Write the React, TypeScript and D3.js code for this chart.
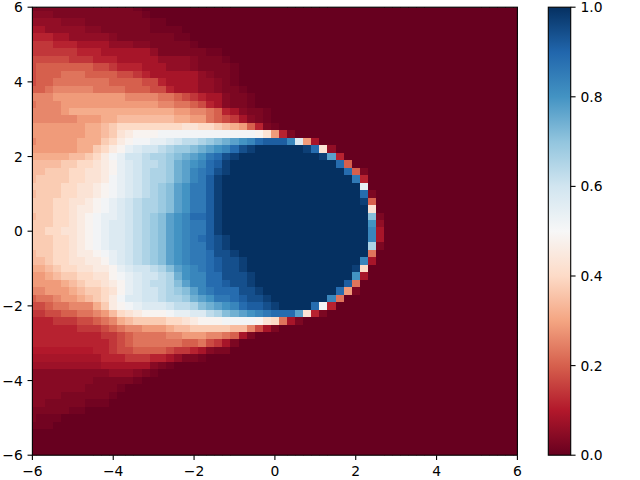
import React from "react";
import * as d3 from "d3";

// Cell values, coded: 0..z = 0..35 of 35; A..E are half steps 0.5..4.5 of 35.
// Top row first, left column first. Spaces group columns by ten; missing trailing cells are 0.
const cellRows: string[] = [
  "1111111111 111A",
  "BBB1111111 1111A",
  "2222BBB111 11111AA",
  "3322222BB1 11111AAAA",
  "4443322222 B1111111AA",
  "5554443333 222BB11111 A",
  "5555554443 3333321111 11AA",
  "6666655544 4333332222 B111A",
  "6777777766 5444333222 B1111A",
  "6777888777 7665433333 32B11A",
  "6778888888 7777664333 322B1A",
  "7789999988 8877766433 322B11A",
  "999aaaaaaa aa99998876 5433B11A",
  "8999aaaaaa aaaaaa9988 7643B11A",
  "9999abbbbb bbbbbbbbaa 998743B11A",
  "999999aaab bcccccccbb aa87653B1A",
  "aaaaaaabbc deeeeeeeef feedcba741 A",
  "aaaaaaabbc dfghhhiiii iiiiiiiihf a41",
  "9aaaaabbbd eghiijjklm mnopqrstvw wwtka3",
  "aaaaaabbde ghjkllmnoo pqrstvxyzz zzzzyvf2",
  "bbbbbccdeg ijllmnnopq rsuvxyzzzz zzzzzzyr4",
  "ccccddeefg hjklmmnoqr stvwyzzzzz zzzzzzzzv7",
  "ccdddeeffg hjklmnnoqr tuvxyzzzzz zzzzzzzzzv 71",
  "cddddeeffg ijklmnnoqr tuwyzzzzzz zzzzzzzzzz u4",
  "ddddeeffgh ijklmnoprs uuwyzzzzzz zzzzzzzzzz zj",
  "cdddeeffgh ijklmnoprs uuwyzzzzzz zzzzzzzzzz zv1",
  "dddeeffghi jklmnnoprs uuwyzzzzzz zzzzzzzzzz zy7",
  "dddeefgghi jklmnnoprs uuwyzzzzzz zzzzzzzzzz zzf",
  "cddeefghij jklmnoprst vvwyzzzzzz zzzzzzzzzz zzp1",
  "dddeefghij kklmnoprst uuwyzzzzzz zzzzzzzzzz zzs2",
  "ddeeffghij kklmnoprst uuwyzzzzzz zzzzzzzzzz zzt3",
  "dddeefghij kklmnoprst uvwxyzzzzz zzzzzzzzzz zzt3",
  "dddeefghij kklmnoprst uuwxyzzzzz zzzzzzzzzz zzn1",
  "cddeefgghi jklmnoprst uuvxxyzzzz zzzzzzzzzz zz8",
  "ccdeeffggh jklmnoprst uuvwxxyzzz zzzzzzzzzz zt3",
  "bbcdeeffgg hjkllmnprs tuvwxxyzzz zzzzzzzzzz ye",
  "aabcddeeff hijkllmnqs ttvvxxxyzz zzzzzzzzzz s3",
  "aaaabcdeef ghjklmmnpr ttvvwxxyzz zzzzzzzzzw 8",
  "99aaabcdde fhjkllmnop rtuvvvxxyz zzzzzzzzva 1",
  "7889aabcde gikkllmnno qrsuuvwxxy zzzzzzzt8",
  "66788999bd ghijkkklmm npqrstvwwx yzzzzvi4",
  "556677889a cefghhhijj kkmnpqrstu vvvrf41",
  "4445556678 9bcddddeef ghhhiiiihf e831",
  "4444445556 7899aaabcc dddddcc963 1",
  "4444444445 567888899a aa998731",
  "4444444444 5678888887 786531",
  "DDDDDDDD44 5667777655 43B11",
  "3333333334 4455544321 1A",
  "CCCCCCCCC3 33333B1A",
  "BBBBBBBBBB 222B1A",
  "BBBBBBBB11 111A",
  "BBBBBBB111 1A",
  "BBBB111111 A",
  "BB11111AAA",
  "11111AA",
  "1AAA",
  "AAA",
  "", "", "", "",
];
const gridCenters: number[] = d3.range(-30, 31).map((i) => i / 5);
const axisTicks: number[] = [-6, -4, -2, 0, 2, 4, 6];
const barTicks: number[] = [0, 0.2, 0.4, 0.6, 0.8, 1];
const rdBu: string[] = ["#67001f", "#b2182b", "#d6604d", "#f4a582", "#fddbc7", "#f7f7f7", "#d1e5f0", "#92c5de", "#4393c3", "#2166ac", "#053061"];

const color = d3.scaleLinear<string>().domain(rdBu.map((_, i) => i / 10)).range(rdBu).interpolate(d3.interpolateRgb);
const x = d3.scaleLinear().domain([-6, 6]).range([32.4, 517.4]);
const y = d3.scaleLinear().domain([-6, 6]).range([455.2, 7.2]);
const barY = d3.scaleLinear().domain([0, 1]).range([455.2, 7.2]);
const barLeft = 548.3;
const barRight = 570.7;
const fmt = (v: number) => (v < 0 ? "\u2212" + Math.abs(v) : String(v));
const half = 0.1;
const fontFamily = "'DejaVu Sans'";

const decode = (ch: string | undefined): number => {
  if (!ch) return 0;
  if (ch >= "A" && ch <= "Z") return (ch.charCodeAt(0) - 65 + 0.5) / 35;
  return parseInt(ch, 36) / 35;
};

const cells = cellRows.flatMap((row, r) => {
  const chars = row.replace(/ /g, "");
  return gridCenters.map((cx, c) => ({
    cx,
    cy: gridCenters[60 - r],
    v: decode(chars[c]),
  }));
});

export default function App() {
  return (
    <svg width={640} height={480} style={{ position: "absolute", left: 0, top: 0, background: "#fff" }}>
      <defs>
        <clipPath id="plot">
          <rect x={x(-6)} y={y(6)} width={x(6) - x(-6)} height={y(-6) - y(6)} />
        </clipPath>
        <linearGradient id="bar" x1="0" y1="1" x2="0" y2="0">
          {rdBu.map((c, i) => (
            <stop key={i} offset={i / 10} stopColor={c} />
          ))}
        </linearGradient>
      </defs>
      <g clipPath="url(#plot)" shapeRendering="crispEdges">
        {cells.map((d, i) => (
          <rect
            key={i}
            x={x(d.cx - half)}
            y={y(d.cy + half)}
            width={x(d.cx + half) - x(d.cx - half) + 0.5}
            height={y(d.cy - half) - y(d.cy + half) + 0.5}
            fill={color(d.v)}
          />
        ))}
      </g>
      <rect x={x(-6)} y={y(6)} width={x(6) - x(-6)} height={y(-6) - y(6)} fill="none" stroke="#000" strokeWidth={1.1} />
      <g fontFamily={fontFamily} fontSize={13.89} fill="#000">
        {axisTicks.map((t) => (
          <g key={"x" + t}>
            <line x1={x(t)} x2={x(t)} y1={y(-6)} y2={y(-6) + 4.86} stroke="#000" strokeWidth={1.1} />
            <text x={x(t)} y={476} textAnchor="middle">{fmt(t)}</text>
          </g>
        ))}
        {axisTicks.map((t) => (
          <g key={"y" + t}>
            <line x1={x(-6)} x2={x(-6) - 4.86} y1={y(t)} y2={y(t)} stroke="#000" strokeWidth={1.1} />
            <text x={22.8} y={y(t) + 5} textAnchor="end">{fmt(t)}</text>
          </g>
        ))}
        <rect x={barLeft} y={barY(1)} width={barRight - barLeft} height={barY(0) - barY(1)} fill="url(#bar)" stroke="#000" strokeWidth={1.1} />
        {barTicks.map((t) => (
          <g key={"b" + t}>
            <line x1={barRight} x2={barRight + 4.86} y1={barY(t)} y2={barY(t)} stroke="#000" strokeWidth={1.1} />
            <text x={barRight + 9.7} y={barY(t) + 5}>{t.toFixed(1)}</text>
          </g>
        ))}
      </g>
    </svg>
  );
}
